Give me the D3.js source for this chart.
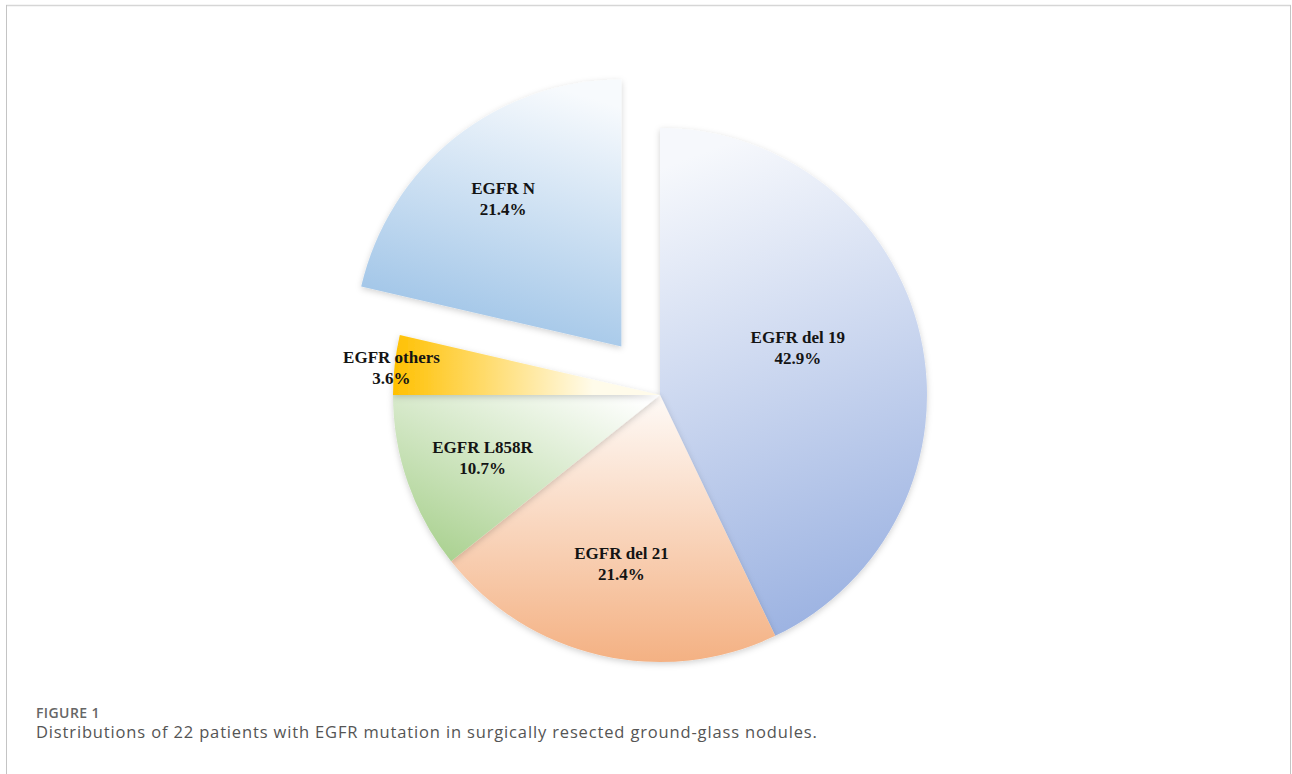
<!DOCTYPE html>
<html>
<head>
<meta charset="utf-8">
<script src="https://cdn.jsdelivr.net/npm/d3@7"></script>
<style>
  html, body { margin: 0; padding: 0; background: #ffffff; }
  svg { display: block; }
</style>
</head>
<body>
<svg id="chart" width="1292" height="774"></svg>
<script>
// ---- data ----
const categories = ["EGFR del 19", "EGFR del 21", "EGFR L858R", "EGFR others", "EGFR N"];
const percents = [42.9, 21.4, 10.7, 3.6, 21.4];
const percentLabels = ["42.9%", "21.4%", "10.7%", "3.6%", "21.4%"];
const exploded = [false, false, false, false, true];
const colorsDark = ["#9ab1e1", "#f4b183", "#a6cf8b", "#ffc000", "#9ac1e6"];
const colorsLight = ["#f6f8fc", "#fefaf7", "#ffffff", "#fffbea", "#f7fafd"];
const captionTitle = "FIGURE 1";
const captionText = "Distributions of 22 patients with EGFR mutation in surgically resected ground-glass nodules.";

// ---- layout / style ----
const W = 1292, H = 774;
const cx = 660, cy = 395, R = 267, explodeDist = 62;
const labelRadius = [146, 172, 188, 270, 190];
const labelAngleShift = [-6.5, 0, 0, -0.5, 0]; // degrees
// gradient directions (objectBoundingBox)
const gradDir = [
  {x1: 0.4, y1: 0, x2: 0.6, y2: 1},
  {x1: 0.5, y1: 0, x2: 0.5, y2: 1},
  {x1: 0.9, y1: 0, x2: 0.1, y2: 1},
  {x1: 0.75, y1: 0.5, x2: 0.0, y2: 0.5},
  {x1: 0.65, y1: 0, x2: 0.35, y2: 1}
];

const svg = d3.select("#chart");

// frame
svg.append("rect").attr("x", 0).attr("y", 0).attr("width", W).attr("height", H).attr("fill", "#fff");
svg.append("line").attr("x1", 6).attr("x2", 1291).attr("y1", 5.5).attr("y2", 5.5)
  .attr("stroke", "#d6d6d6").attr("stroke-width", 1.5);
svg.append("line").attr("x1", 6.5).attr("x2", 6.5).attr("y1", 5).attr("y2", H)
  .attr("stroke", "#c4c4c4").attr("stroke-width", 1);
svg.append("line").attr("x1", 1290.5).attr("x2", 1290.5).attr("y1", 5).attr("y2", H)
  .attr("stroke", "#c4c4c4").attr("stroke-width", 1);

const defs = svg.append("defs");
const filt = defs.append("filter").attr("id", "shadow")
  .attr("x", "-20%").attr("y", "-20%").attr("width", "140%").attr("height", "140%");
filt.append("feDropShadow").attr("dx", 0).attr("dy", 2).attr("stdDeviation", 3)
  .attr("flood-color", "#000").attr("flood-opacity", 0.18);

categories.forEach((c, i) => {
  const g = defs.append("linearGradient").attr("id", "grad" + i)
    .attr("x1", gradDir[i].x1).attr("y1", gradDir[i].y1)
    .attr("x2", gradDir[i].x2).attr("y2", gradDir[i].y2);
  g.append("stop").attr("offset", "0%").attr("stop-color", colorsLight[i]);
  g.append("stop").attr("offset", "100%").attr("stop-color", colorsDark[i]);
});

const data = categories.map((c, i) => ({name: c, value: percents[i], label: percentLabels[i], idx: i}));
const pie = d3.pie().sort(null).value(d => d.value).startAngle(0).endAngle(2 * Math.PI);
const arcs = pie(data);
const arc = d3.arc().innerRadius(0).outerRadius(R);

const gPie = svg.append("g").attr("transform", `translate(${cx},${cy})`);

function offsetOf(d) {
  if (!exploded[d.data.idx]) return [0, 0];
  const mid = (d.startAngle + d.endAngle) / 2;
  return [Math.sin(mid) * explodeDist, -Math.cos(mid) * explodeDist];
}

gPie.selectAll("path.slice").data(arcs).enter().append("path")
  .attr("class", "slice")
  .attr("d", arc)
  .attr("transform", d => { const o = offsetOf(d); return `translate(${o[0]},${o[1]})`; })
  .attr("fill", d => `url(#grad${d.data.idx})`)
  .attr("filter", "url(#shadow)");

const labels = gPie.selectAll("text.lbl").data(arcs).enter().append("text")
  .attr("class", "lbl")
  .attr("text-anchor", "middle")
  .attr("font-family", "'Liberation Serif', 'Times New Roman', serif")
  .attr("font-weight", "bold")
  .attr("font-size", 17)
  .attr("fill", "#141414")
  .attr("transform", d => {
    const o = offsetOf(d);
    const mid = (d.startAngle + d.endAngle) / 2 + labelAngleShift[d.data.idx] * Math.PI / 180;
    const r = labelRadius[d.data.idx];
    return `translate(${o[0] + Math.sin(mid) * r},${o[1] - Math.cos(mid) * r})`;
  });
labels.append("tspan").attr("x", 0).attr("y", -4).text(d => d.data.name);
labels.append("tspan").attr("x", 0).attr("y", 17).text(d => d.data.label);

// caption
svg.append("text").attr("x", 36).attr("y", 718)
  .attr("font-family", "'Open Sans', sans-serif").attr("font-weight", 600)
  .attr("font-size", 14).attr("letter-spacing", 0.4).attr("fill", "#666").text(captionTitle);
svg.append("text").attr("x", 36).attr("y", 738)
  .attr("font-family", "'Open Sans', sans-serif")
  .attr("font-size", 16.5).attr("letter-spacing", 0.85).attr("fill", "#555").text(captionText);
</script>
</body>
</html>
